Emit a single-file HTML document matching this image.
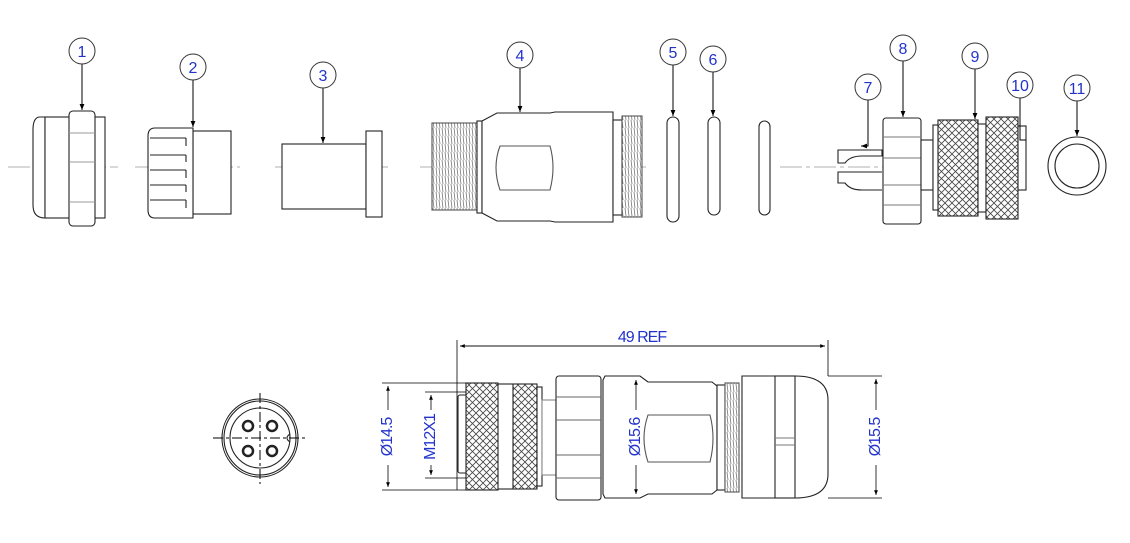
<!DOCTYPE html>
<html><head><meta charset="utf-8"><style>
html,body{margin:0;padding:0;background:#fff}
svg{display:block}
text{font-family:"Liberation Sans",sans-serif;fill:#2233cc}
</style></head><body>
<svg width="1130" height="543" viewBox="0 0 1130 543" xmlns="http://www.w3.org/2000/svg">
<defs>
<pattern id="kn" width="7" height="7" patternUnits="userSpaceOnUse">
<rect width="7" height="7" fill="#fff"/>
<path d="M0 0L7 7M7 0L0 7" stroke="#444" stroke-width="0.8"/>
</pattern>
<pattern id="th" width="6" height="8" patternUnits="userSpaceOnUse">
<rect width="6" height="8" fill="#fff"/>
<path d="M1 0L2 8M4 0L5 8" stroke="#777" stroke-width="0.8"/>
</pattern>
<marker id="ar" viewBox="0 0 10 10" refX="10" refY="5" markerWidth="6" markerHeight="6" orient="auto"><path d="M0 1L10 5L0 9z" fill="#000"/></marker>
</defs>
<g fill="none" stroke="#999" stroke-width="0.8" stroke-dasharray="22 4 4 4">
<line x1="8" y1="167" x2="118" y2="167"/>
<line x1="135" y1="167" x2="240" y2="167"/>
<line x1="275" y1="167" x2="388" y2="167"/>
<line x1="420" y1="167" x2="648" y2="167"/>
<line x1="780" y1="167" x2="1025" y2="167"/>
</g>
<g fill="#fff" stroke="#222" stroke-width="1.1">
<path d="M45 117 H40 Q33 117 33 130 V205 Q33 218 45 218 Z"/>
<rect x="45" y="117" width="60" height="101"/>
<rect x="69" y="111" width="26" height="115" rx="4"/>
<line x1="69" y1="133" x2="95" y2="133" stroke="#999"/><line x1="69" y1="162" x2="95" y2="162" stroke="#999"/><line x1="69" y1="202" x2="95" y2="202" stroke="#999"/>
<rect x="193" y="131" width="38" height="83"/>
<path d="M193 128 V218 H155 Q148 218 148 210 V136 Q148 128 155 128 Z"/>
<g stroke="#222"><path d="M150 138H186M150 155H186M150 170H186M150 185H186M150 200H186"/><path d="M186 138V146M186 155V162M186 170V178M186 185V192M186 200V208"/></g>
<rect x="282" y="144" width="84" height="65"/>
<rect x="366" y="131" width="16" height="86"/>
<rect x="432" y="123" width="45" height="87" fill="url(#th)" stroke="#555"/>
<rect x="477" y="121" width="5" height="92"/>
<path d="M482 121 L497 113 H550 L555 112 H613 V222 H555 L550 221 H497 L482 213 Z"/>
<path d="M500 146 H550 Q556 167 550 190 H500 Q492 167 500 146 Z" stroke="#555"/>
<rect x="613" y="120" width="9" height="95"/>
<rect x="622" y="116" width="20" height="101" fill="url(#th)" stroke="#555"/>
<rect x="667" y="117" width="12" height="105" rx="6"/>
<rect x="708" y="117" width="12" height="98" rx="6"/>
<rect x="759" y="121" width="11" height="94" rx="5.5"/>
<path d="M882 156 H862 Q850 156 845 163 H838 V150 H882Z"/>
<path d="M882 172 H838 V183 H845 Q850 190 862 190 H882"/>
<rect x="883" y="118" width="38" height="106" rx="3"/>
<path d="M883 137H921M883 158H921M883 185H921M883 205H921" stroke="#777"/>
<rect x="921" y="140" width="12" height="50"/>
<rect x="933" y="125" width="6" height="85"/>
<rect x="938" y="120" width="40" height="96" fill="url(#kn)"/>
<rect x="978" y="124" width="8" height="88"/>
<rect x="986" y="117" width="32" height="102" fill="url(#kn)"/>
<rect x="1018" y="126" width="8" height="64"/>
<circle cx="1077" cy="166" r="29"/>
<circle cx="1077" cy="166" r="22"/>
</g>
<g stroke="#000" stroke-width="1" fill="none">
<line x1="82" y1="64" x2="82" y2="110" marker-end="url(#ar)"/>
<line x1="193" y1="80" x2="193" y2="127" marker-end="url(#ar)"/>
<line x1="323" y1="88" x2="323" y2="143" marker-end="url(#ar)"/>
<line x1="520" y1="68" x2="520" y2="112" marker-end="url(#ar)"/>
<line x1="673" y1="65" x2="673" y2="116" marker-end="url(#ar)"/>
<line x1="713" y1="72" x2="713" y2="116" marker-end="url(#ar)"/>
<polyline points="868,100 868,146 861,146" marker-end="url(#ar)"/>
<line x1="903" y1="61" x2="903" y2="117" marker-end="url(#ar)"/>
<line x1="975" y1="69" x2="975" y2="119" marker-end="url(#ar)"/>
<polyline points="1020,98 1020,140 1026,140"/>
<line x1="1077" y1="101" x2="1077" y2="136" marker-end="url(#ar)"/>
</g>
<g fill="#fff" stroke="#333" stroke-width="1">
<circle cx="82" cy="51" r="13"/><circle cx="193" cy="67" r="13"/><circle cx="323" cy="75" r="13"/><circle cx="520" cy="55" r="13"/><circle cx="673" cy="52" r="13"/><circle cx="713" cy="59" r="13"/><circle cx="868" cy="87" r="13"/><circle cx="903" cy="48" r="13"/><circle cx="975" cy="56" r="13"/><circle cx="1020" cy="85" r="13"/><circle cx="1077" cy="88" r="13"/>
</g>
<g font-size="16" text-anchor="middle">
<text x="82" y="57">1</text><text x="193" y="73">2</text><text x="323" y="81">3</text><text x="520" y="61">4</text><text x="673" y="58">5</text><text x="713" y="65">6</text><text x="868" y="93">7</text><text x="903" y="54">8</text><text x="975" y="62">9</text><text x="1020" y="91">10</text><text x="1077" y="94">11</text>
</g>
<g fill="none" stroke="#222" stroke-width="1.1">
<ellipse cx="260" cy="438" rx="38" ry="39"/>
<ellipse cx="260" cy="438" rx="36" ry="37"/>
<circle cx="260" cy="438" r="30"/>
<circle cx="248" cy="426" r="5" stroke-width="2.5"/><circle cx="272" cy="426" r="5" stroke-width="2.5"/>
<circle cx="248" cy="451" r="5" stroke-width="2.5"/><circle cx="272" cy="451" r="5" stroke-width="2.5"/>
<path d="M290 434 Q284 438 290 442"/>
</g>
<g stroke="#000" stroke-width="1" stroke-dasharray="10 3 3 3"><line x1="213" y1="438" x2="307" y2="438"/><line x1="260" y1="393" x2="260" y2="484"/></g>
<g fill="#fff" stroke="#222" stroke-width="1.1">
<rect x="458" y="395" width="10" height="78" rx="2"/>
<rect x="466" y="383" width="32" height="107" fill="url(#kn)"/>
<line x1="498" y1="384" x2="513" y2="384"/><line x1="498" y1="489" x2="513" y2="489"/>
<rect x="513" y="384" width="24" height="105" fill="url(#kn)"/>
<rect x="537" y="387" width="5" height="99"/>
<rect x="542" y="400" width="14" height="75" stroke="#888"/>
<rect x="556" y="376" width="45" height="124" rx="3"/>
<path d="M556 397H601M556 420H601M556 455H601M556 478H601" stroke="#666"/>
<path d="M603 380 L605 376 H640 L648 382 H712 L717 386 V490 L712 494 H648 L640 498 H605 L603 494 Z"/>
<path d="M648 415 H710 Q716 438 710 462 H648 Q640 438 648 415 Z" stroke="#555"/>
<rect x="717" y="385" width="8" height="105"/>
<rect x="725" y="383" width="14" height="109" fill="url(#th)" stroke="#555"/>
<path d="M742 376 H795 Q828 376 828 400 V474 Q828 498 795 498 H742 Z"/>
<rect x="775" y="376" width="20" height="122"/>
<path d="M775 438H795M775 445H795" stroke="#777"/>
</g>
<g stroke="#000" stroke-width="0.8" fill="none">
<line x1="457" y1="340" x2="457" y2="490"/><line x1="828" y1="340" x2="828" y2="376"/>
<line x1="460" y1="346" x2="825" y2="346" marker-end="url(#ar)"/>
<line x1="825" y1="346" x2="460" y2="346" marker-end="url(#ar)"/>
<line x1="382" y1="383" x2="466" y2="383"/><line x1="382" y1="490" x2="466" y2="490"/>
<line x1="388" y1="410" x2="388" y2="386" marker-end="url(#ar)"/><line x1="388" y1="465" x2="388" y2="487" marker-end="url(#ar)"/>
<line x1="425" y1="392" x2="466" y2="392"/><line x1="425" y1="478" x2="466" y2="478"/>
<line x1="431" y1="410" x2="431" y2="395" marker-end="url(#ar)"/><line x1="431" y1="465" x2="431" y2="475" marker-end="url(#ar)"/>
<line x1="636" y1="410" x2="636" y2="380" marker-end="url(#ar)"/><line x1="636" y1="465" x2="636" y2="494" marker-end="url(#ar)"/>
<line x1="828" y1="376" x2="882" y2="376"/><line x1="828" y1="498" x2="882" y2="498"/>
<line x1="876" y1="410" x2="876" y2="379" marker-end="url(#ar)"/><line x1="876" y1="465" x2="876" y2="495" marker-end="url(#ar)"/>
</g>
<g font-size="16" text-anchor="middle">
<text x="642" y="342" letter-spacing="-1">49 REF</text>
<text transform="translate(392,437) rotate(-90)" letter-spacing="-1">Ø14.5</text>
<text transform="translate(435,437) rotate(-90)" letter-spacing="-1">M12X1</text>
<text transform="translate(640,437) rotate(-90)" letter-spacing="-1">Ø15.6</text>
<text transform="translate(880,437) rotate(-90)" letter-spacing="-1">Ø15.5</text>
</g>
</svg>
</body></html>
